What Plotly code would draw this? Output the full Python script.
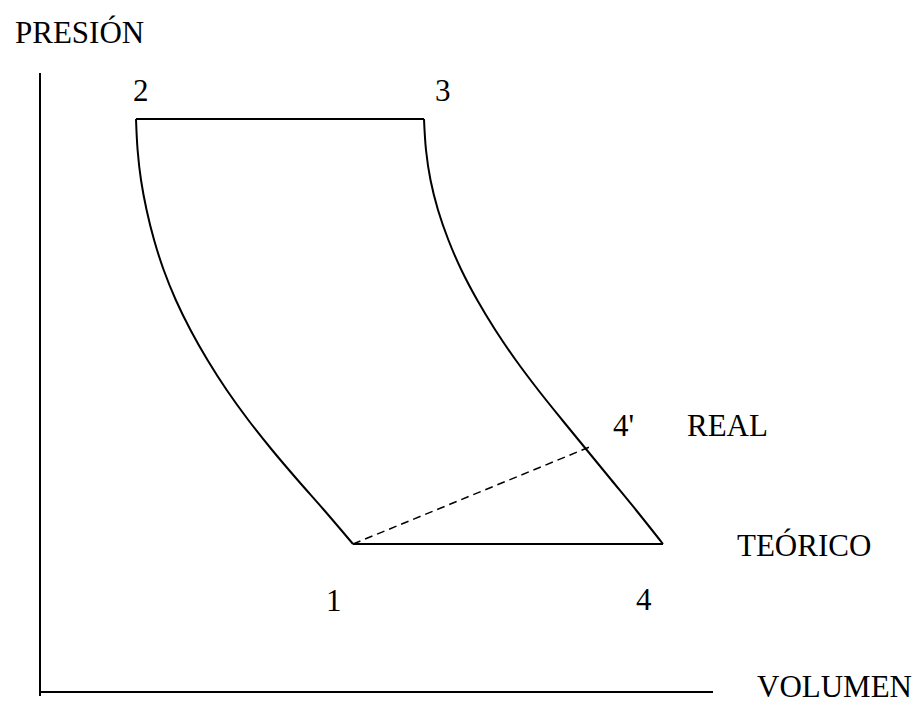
"""
    Diagrama presion-volumen: ciclo teorico y real
"""

import plotly.graph_objects as go

# volumen / presion (unidades arbitrarias)
top_v = [9.6, 38.4]          # 2 -> 3
top_p = [57.3, 57.3]

exp_v = [38.40, 38.60, 39.05, 39.80, 40.84, 42.14, 43.72, 45.53, 47.57, 49.82, 52.22, 54.68, 57.14, 59.60, 62.30]  # 3 -> 4
exp_p = [57.30, 54.20, 51.20, 48.20, 45.20, 42.20, 39.20, 36.20, 33.20, 30.20, 27.20, 24.20, 21.20, 18.20, 14.80]

bot_v = [62.3, 31.3]         # 4 -> 1 (teorico)
bot_p = [14.8, 14.8]

comp_v = [31.30, 28.40, 25.76, 23.21, 20.83, 18.67, 16.75, 15.05, 13.58, 12.37, 11.41, 10.66, 10.10, 9.76, 9.60]  # 1 -> 2
comp_p = [14.80, 18.20, 21.20, 24.20, 27.20, 30.20, 33.20, 36.20, 39.20, 42.20, 45.20, 48.20, 51.20, 54.20, 57.30]

real_v = [31.3, 55.0]        # 1 -> 4' (real)
real_p = [14.8, 24.52]

axis_v = [0, 67.3]
axis_p = [-0.4, 61.9]

labels = ["PRESIÓN", "2", "3", "4'", "REAL", "TEÓRICO", "1", "4", "VOLUMEN"]
label_v = [-2.7, 10.1, 40.3, 58.3, 64.5, 69.5, 29.4, 60.4, 71.5]
label_p = [66.0, 60.2, 60.2, 26.7, 26.7, 14.7, 9.2, 9.3, 0.6]
label_anchor = ["left", "center", "center", "center", "left", "left", "center", "center", "left"]

solid = dict(color="black", width=2)
curve = dict(color="black", width=2, shape="spline", smoothing=1.0, simplify=False)

data = [
    go.Scatter(x=[axis_v[0], axis_v[0]], y=axis_p, mode="lines", line=solid),
    go.Scatter(x=axis_v, y=[0, 0], mode="lines", line=solid),
    go.Scatter(x=top_v, y=top_p, mode="lines", line=solid),
    go.Scatter(x=exp_v, y=exp_p, mode="lines", line=curve),
    go.Scatter(x=bot_v, y=bot_p, mode="lines", line=solid),
    go.Scatter(x=comp_v, y=comp_p, mode="lines", line=curve),
    go.Scatter(x=real_v, y=real_p, mode="lines", line=dict(color="black", width=1.5, dash="8px,5px")),
]

annotations = []
for txt, v, p, anc in zip(labels, label_v, label_p, label_anchor):
    annotations.append(dict(x=v, y=p, text=txt, showarrow=False, xanchor=anc, yanchor="middle",
                            font=dict(family="Liberation Serif", size=31, color="black")))

layout = go.Layout(
    width=922, height=702,
    margin=dict(l=0, r=0, t=0, b=0),
    paper_bgcolor="white", plot_bgcolor="white",
    showlegend=False,
    xaxis=dict(range=[-4.0, 88.2], visible=False, fixedrange=True),
    yaxis=dict(range=[-1.0, 69.2], visible=False, fixedrange=True),
    annotations=annotations,
)

fig = go.Figure(data=data, layout=layout)
fig.write_html("out.html", config={"displayModeBar": False},
               post_script="document.body.style.margin='0';document.body.style.overflow='hidden';")
